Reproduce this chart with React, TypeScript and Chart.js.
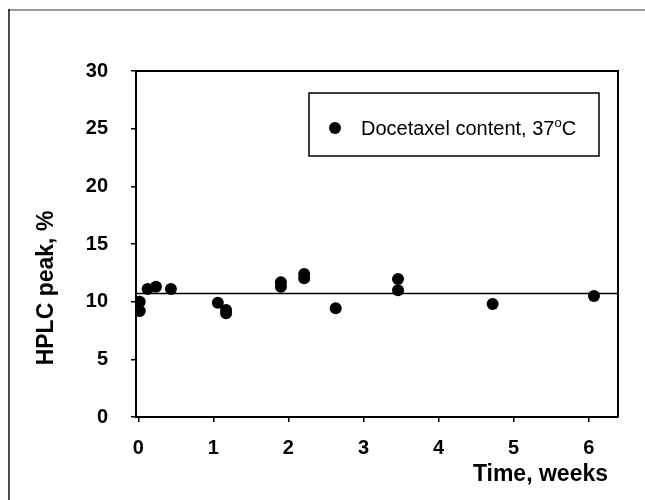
import React, { useEffect, useRef } from "react";
import { Chart, registerables } from "chart.js";

Chart.register(...registerables);

// ---- data ----
const weeks = [0.02, 0.02, 0.125, 0.236, 0.435, 1.06, 1.17, 1.17, 1.9, 1.9, 2.21, 2.21, 2.63, 3.46, 3.46, 4.72, 6.07];
const peakPercent = [10.0, 9.19, 11.1, 11.3, 11.1, 9.91, 9.28, 8.99, 11.68, 11.3, 12.4, 12.03, 9.43, 11.97, 11.0, 9.8, 10.49];
const meanLevel = 10.7;
const xTicks = [0, 1, 2, 3, 4, 5, 6];
const yTicks = [0, 5, 10, 15, 20, 25, 30];
const xRange = [-0.03, 6.39];
const yRange = [0, 30];
const seriesLabel = "Docetaxel content, 37";
const seriesLabelSup = "o";
const seriesLabelTail = "C";
const yTitle = "HPLC peak, %";
const xTitle = "Time, weeks";

const FONT = "'Liberation Sans', Arial, Helvetica, sans-serif";

const decorPlugin = {
  id: "decor",
  beforeDatasetsDraw(chart: any) {
    const { ctx, chartArea } = chart;
    ctx.save();
    ctx.strokeStyle = "#000";
    ctx.lineWidth = 2;
    ctx.beginPath();
    ctx.moveTo(chartArea.left, chartArea.top);
    ctx.lineTo(chartArea.right, chartArea.top);
    ctx.lineTo(chartArea.right, chartArea.bottom);
    ctx.stroke();
    ctx.restore();
  },
  afterDraw(chart: any) {
    const { ctx } = chart;
    ctx.save();
    // outer figure border (top & left visible)
    ctx.strokeStyle = "#9a9a9a";
    ctx.lineWidth = 2;
    ctx.beginPath();
    ctx.moveTo(8, 10);
    ctx.lineTo(645, 10);
    ctx.stroke();
    ctx.strokeStyle = "#111";
    ctx.lineWidth = 1.5;
    ctx.beginPath();
    ctx.moveTo(9, 9);
    ctx.lineTo(9, 500);
    ctx.stroke();

    // axis titles
    ctx.fillStyle = "#000";
    ctx.font = `bold 23px ${FONT}`;
    ctx.textAlign = "right";
    ctx.textBaseline = "alphabetic";
    ctx.fillText(xTitle, 608, 481);

    ctx.save();
    ctx.translate(53, 288);
    ctx.rotate(-Math.PI / 2);
    ctx.textAlign = "center";
    ctx.fillText(yTitle, 0, 0);
    ctx.restore();

    // legend box
    ctx.strokeStyle = "#000";
    ctx.lineWidth = 1.5;
    ctx.strokeRect(309, 93, 290, 63);
    ctx.beginPath();
    ctx.arc(335, 128, 6, 0, Math.PI * 2);
    ctx.fill();
    ctx.textAlign = "left";
    ctx.textBaseline = "alphabetic";
    ctx.font = `20px ${FONT}`;
    let x = 361;
    const base = 135;
    ctx.fillText(seriesLabel, x, base);
    x += ctx.measureText(seriesLabel).width;
    ctx.font = `13px ${FONT}`;
    ctx.fillText(seriesLabelSup, x, base - 8);
    x += ctx.measureText(seriesLabelSup).width;
    ctx.font = `20px ${FONT}`;
    ctx.fillText(seriesLabelTail, x, base);
    ctx.restore();
  },
};

export default function App() {
  const ref = useRef<HTMLCanvasElement>(null);

  useEffect(() => {
    if (!ref.current) return;
    const points = weeks.map((w, i) => ({ x: w, y: peakPercent[i] }));
    const meanLine = [
      { x: xRange[0], y: meanLevel },
      { x: xRange[1], y: meanLevel },
    ];
    const tickFont = { family: FONT, size: 20, weight: "bold" as const };
    const chart = new Chart(ref.current, {
      type: "scatter",
      data: {
        datasets: [
          {
            type: "line",
            label: "mean",
            data: meanLine,
            borderColor: "#000",
            borderWidth: 1.5,
            pointRadius: 0,
            fill: false,
          } as any,
          {
            label: seriesLabel + seriesLabelSup + seriesLabelTail,
            data: points,
            pointRadius: 6,
            pointHoverRadius: 6,
            backgroundColor: "#000",
            borderColor: "#000",
            borderWidth: 0,
          },
        ],
      },
      options: {
        animation: false,
        responsive: false,
        devicePixelRatio: 1,
        layout: { padding: { left: 0, top: 71, right: 27, bottom: 0 } },
        plugins: { legend: { display: false }, tooltip: { enabled: false } },
        scales: {
          x: {
            type: "linear",
            position: "bottom",
            min: xRange[0],
            max: xRange[1],
            afterFit: (s: any) => {
              s.height = 83;
            },
            afterBuildTicks: (s: any) => {
              s.ticks = xTicks.map((v) => ({ value: v }));
            },
            grid: { drawOnChartArea: false, drawTicks: true, tickLength: 5, color: "#000", lineWidth: 1.5 },
            border: { display: true, color: "#000", width: 2 },
            ticks: { color: "#000", font: tickFont, padding: 14, maxRotation: 0, autoSkip: false },
          },
          y: {
            type: "linear",
            position: "left",
            min: yRange[0],
            max: yRange[1],
            afterFit: (s: any) => {
              s.width = 136;
            },
            afterBuildTicks: (s: any) => {
              s.ticks = yTicks.map((v) => ({ value: v }));
            },
            grid: { drawOnChartArea: false, drawTicks: true, tickLength: 5, color: "#000", lineWidth: 1.5 },
            border: { display: true, color: "#000", width: 2 },
            ticks: { color: "#000", font: tickFont, padding: 23, autoSkip: false },
          },
        },
      },
      plugins: [decorPlugin],
    });
    return () => chart.destroy();
  }, []);

  return (
    <div style={{ position: "absolute", left: 0, top: 0, width: 645, height: 500, background: "#fff" }}>
      <canvas ref={ref} width={645} height={500} style={{ display: "block", width: 645, height: 500 }} />
    </div>
  );
}
